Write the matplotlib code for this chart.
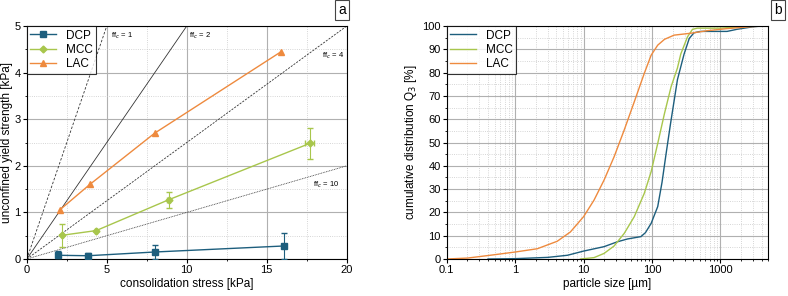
import matplotlib.pyplot as plt
from matplotlib.lines import Line2D
from matplotlib.ticker import MultipleLocator, LogLocator, NullFormatter

plt.rcParams['font.family'] = ['Liberation Sans', 'DejaVu Sans']

# panel a: yield loci data
dcp_x = [1.93, 3.82, 7.99, 16.1]
dcp_y = [0.08, 0.07, 0.15, 0.28]
dcp_yerr = [0.10, 0.05, 0.15, 0.28]
dcp_xerr = [0.05, 0.05, 0.05, 0.12]

mcc_x = [2.22, 4.34, 8.86, 17.68]
mcc_y = [0.51, 0.61, 1.27, 2.48]
mcc_yerr = [0.25, 0.0, 0.17, 0.33]
mcc_xerr = [0.05, 0.05, 0.12, 0.30]

lac_x = [2.05, 3.94, 7.99, 15.9]
lac_y = [1.05, 1.60, 2.70, 4.45]

ffc_values = [1, 2, 4, 10]
ffc_styles = [(0, (3, 2)), '-', (0, (2.5, 1.5)), (0, (1, 1))]
ffc_label_pos = [(5.25, 4.8), (10.15, 4.8), (18.45, 4.37), (17.9, 1.6)]

# panel b: particle size distributions
dcp_size = [0.4, 1, 3, 5.8, 10, 19.9, 31.2, 43.8, 68.6, 80, 97, 121, 140, 160, 186, 235, 294, 350, 410, 510, 1250, 1740, 3000, 4000]
dcp_q3 = [0.0, 0.15, 0.7, 1.6, 3.4, 5.3, 7.4, 8.6, 9.6, 11.3, 15.3, 22.5, 33, 45, 58, 77, 88, 94.7, 97.1, 97.7, 97.7, 98.6, 99.7, 100]

mcc_size = [9, 14.2, 19.9, 27.9, 39.2, 55, 77, 97, 121, 152, 190, 235, 263, 330, 390, 460, 1000, 1950, 3000]
mcc_q3 = [0.0, 0.6, 2.4, 5.6, 11, 18.2, 28.2, 37.5, 49.6, 62.5, 74, 82, 88, 95.4, 98.6, 99.1, 99.1, 99.7, 100]

lac_size = [0.1, 0.2, 0.43, 1, 2.1, 4.1, 6.4, 10, 14.2, 19.9, 27.9, 39.2, 55, 77, 97, 121, 152, 210, 365, 640, 1250, 2700, 4000]
lac_q3 = [0.0, 0.4, 1.6, 3.0, 4.4, 7.6, 11.6, 18.2, 25.3, 33.9, 43.9, 55.4, 67.5, 79.7, 87.5, 91.8, 94.3, 96.1, 96.9, 98.0, 98.9, 99.7, 100]

c_dcp = '#1d5e7d'
c_mcc = '#a8c64c'
c_lac = '#ee8a3e'

fig = plt.figure(figsize=(7.88, 2.96), dpi=100)
ax1 = fig.add_axes([0.034, 0.125, 0.406, 0.787])
ax2 = fig.add_axes([0.567, 0.125, 0.408, 0.787])

# ---- panel a
for ffc, ls in zip(ffc_values, ffc_styles):
    ax1.plot([0, 20], [0, 20 / ffc], color='#333333', lw=0.6, ls=ls, zorder=2)
for ffc, (tx, ty) in zip(ffc_values, ffc_label_pos):
    ax1.text(tx, ty, 'ff$_c$ = %d' % ffc, fontsize=5.5, ha='left', va='center')

ax1.errorbar(dcp_x, dcp_y, yerr=dcp_yerr, xerr=dcp_xerr, color=c_dcp, marker='s', ms=4,
             lw=1, capsize=2, elinewidth=0.8, zorder=4)
ax1.errorbar(mcc_x, mcc_y, yerr=mcc_yerr, xerr=mcc_xerr, color=c_mcc, marker='D', ms=3.5,
             lw=1, capsize=2, elinewidth=0.8, zorder=4)
ax1.plot(lac_x, lac_y, color=c_lac, marker='^', ms=4, lw=1, zorder=4)

handles = [Line2D([], [], color=c_dcp, marker='s', ms=4, lw=1),
           Line2D([], [], color=c_mcc, marker='D', ms=3.5, lw=1),
           Line2D([], [], color=c_lac, marker='^', ms=4, lw=1)]

ax1.set_xlim(0, 20)
ax1.set_ylim(0, 5)
ax1.xaxis.set_major_locator(MultipleLocator(5))
ax1.xaxis.set_minor_locator(MultipleLocator(2.5))
ax1.yaxis.set_major_locator(MultipleLocator(1))
ax1.yaxis.set_minor_locator(MultipleLocator(0.5))
ax1.grid(True, which='major', color='#b0b0b0', lw=0.8)
ax1.grid(True, which='minor', color='#c8c8c8', lw=0.6, ls=':')
ax1.set_axisbelow(True)
ax1.set_xlabel('consolidation stress [kPa]', fontsize=8.5, labelpad=2)
ax1.set_ylabel('unconfined yield strength [kPa]', fontsize=8.5, labelpad=1)
leg = ax1.legend(handles, ['DCP', 'MCC', 'LAC'], loc='upper left', fontsize=8.5, frameon=True,
                 fancybox=False, borderaxespad=0, handlelength=2.2, borderpad=0.3, labelspacing=0.2)
leg.get_frame().set_edgecolor('black')
leg.get_frame().set_linewidth(0.8)
ax1.text(0.985, 1.07, 'a', transform=ax1.transAxes, fontsize=10, ha='center', va='center',
         bbox=dict(boxstyle='square,pad=0.2', fc='white', ec='#444444', lw=0.8))

# ---- panel b
ax2.plot(dcp_size, dcp_q3, color=c_dcp, lw=1, label='DCP')
ax2.plot(mcc_size, mcc_q3, color=c_mcc, lw=1, label='MCC')
ax2.plot(lac_size, lac_q3, color=c_lac, lw=1, label='LAC')
ax2.set_xscale('log')
ax2.set_xlim(0.1, 5000)
ax2.set_ylim(0, 100)
ax2.set_xticks([0.1, 1, 10, 100, 1000])
ax2.set_xticklabels(['0.1', '1', '10', '100', '1000'])
ax2.xaxis.set_minor_locator(LogLocator(base=10, subs=range(2, 10), numticks=20))
ax2.xaxis.set_minor_formatter(NullFormatter())
ax2.yaxis.set_major_locator(MultipleLocator(10))
ax2.yaxis.set_minor_locator(MultipleLocator(5))
ax2.grid(True, which='major', color='#b0b0b0', lw=0.8)
ax2.grid(True, which='minor', color='#c8c8c8', lw=0.6, ls=':')
ax2.set_axisbelow(True)
ax2.set_xlabel('particle size [µm]', fontsize=8.5, labelpad=2)
ax2.set_ylabel('cumulative distribution Q$_3$ [%]', fontsize=8.5, labelpad=2)
leg2 = ax2.legend(loc='upper left', fontsize=8.5, frameon=True, fancybox=False,
                  borderaxespad=0, handlelength=2.2, borderpad=0.3, labelspacing=0.2)
leg2.get_frame().set_edgecolor('black')
leg2.get_frame().set_linewidth(0.8)
ax2.text(1.03, 1.07, 'b', transform=ax2.transAxes, fontsize=10, ha='center', va='center',
         bbox=dict(boxstyle='square,pad=0.2', fc='white', ec='#444444', lw=0.8))

for ax in (ax1, ax2):
    ax.tick_params(which='major', labelsize=8, length=3, width=0.8, pad=1.5)
    ax.tick_params(which='minor', length=1.5, width=0.6)
    for s in ax.spines.values():
        s.set_linewidth(0.8)

fig.savefig('out.png', dpi=100)
